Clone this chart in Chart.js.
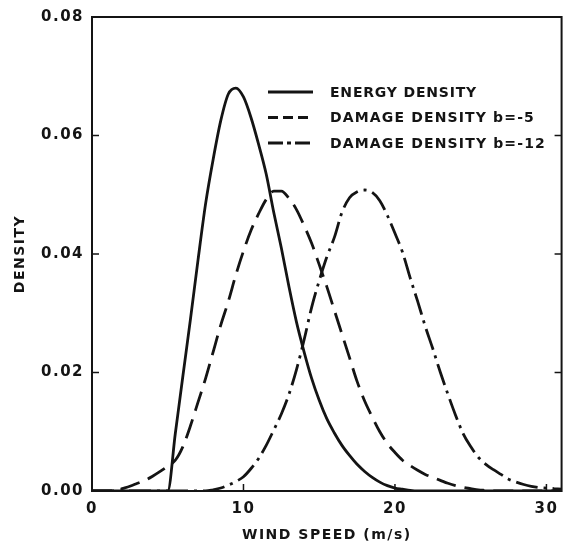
<!DOCTYPE html>
<html>
<head>
<meta charset="utf-8">
<script src="https://cdn.jsdelivr.net/npm/chart.js@4.4.1/dist/chart.umd.min.js"></script>
<style>
  html, body { margin: 0; padding: 0; background: #fff; }
  #wrap { width: 566px; height: 548px; }
</style>
</head>
<body>
<div id="wrap"><canvas id="chart" width="566" height="548"></canvas></div>
<script>
const windSpeed = [
  0, 0.5, 1, 1.5, 2, 2.5, 3, 3.5, 4, 4.5, 5, 5.5, 6, 6.5, 7, 7.5, 8, 8.5, 9, 9.5,
  10, 10.5, 11, 11.5, 12, 12.5, 13, 13.5, 14, 14.5, 15, 15.5, 16, 16.5, 17, 17.5,
  18, 18.5, 19, 19.5, 20, 20.5, 21, 21.5, 22, 22.5, 23, 23.5, 24, 24.5, 25, 25.5,
  26, 26.5, 27, 27.5, 28, 28.5, 29, 29.5, 30, 30.5, 31
];

const energyDensity = [
  0, 0, 0, 0, 0, 0, 0, 0, 0, 0, 0,
  0.0097, 0.0194, 0.029, 0.039, 0.0485, 0.056, 0.0625, 0.067, 0.068, 0.0665,
  0.063, 0.0585, 0.0535, 0.047, 0.041, 0.0345, 0.0285, 0.0235, 0.019, 0.0153,
  0.0122, 0.0098, 0.0077, 0.006, 0.0045, 0.0033, 0.0023, 0.0015, 0.0009, 0.0005,
  0.0003, 0.0001,
  0, 0, 0, 0, 0, 0, 0, 0, 0, 0, 0, 0, 0, 0, 0, 0, 0, 0, 0, 0
];

const damageB5 = [
  0, 0, 0, 0, 0.0004, 0.0008, 0.0013, 0.0018, 0.0025, 0.0033, 0.0042, 0.0052,
  0.0075, 0.011, 0.015, 0.019, 0.0235, 0.028, 0.032, 0.0365, 0.0405, 0.044,
  0.0468, 0.0492, 0.0506, 0.0506, 0.0494, 0.0475, 0.0448, 0.0418, 0.0382, 0.0345,
  0.0305, 0.0265, 0.0225, 0.0185, 0.0152, 0.0125, 0.01, 0.008, 0.0065, 0.0052,
  0.0043, 0.0035, 0.0028, 0.0023, 0.0018, 0.0013, 0.0009, 0.0006, 0.0004, 0.0002,
  0.0001,
  0, 0, 0, 0, 0, 0, 0, 0, 0, 0
];

const damageB12 = [
  0, 0, 0, 0, 0, 0, 0, 0, 0, 0, 0, 0, 0, 0, 0, 0,
  0.0002, 0.0005, 0.001, 0.0016, 0.0024, 0.0038, 0.0055, 0.0077, 0.0103, 0.013,
  0.0163, 0.0205, 0.0255, 0.031, 0.0355, 0.0395, 0.0428, 0.047, 0.0495, 0.0505,
  0.0508, 0.0504, 0.049, 0.0465, 0.0435, 0.0403, 0.036, 0.032, 0.0278, 0.024,
  0.02, 0.0163, 0.0128, 0.0097, 0.0075, 0.0057, 0.0045, 0.0036, 0.0028, 0.002,
  0.0015, 0.0011, 0.0008, 0.0006, 0.0005, 0.0004, 0.0003
];

const seriesLabels = ["ENERGY DENSITY", "DAMAGE DENSITY b=-5", "DAMAGE DENSITY b=-12"];
const xTicks = [0, 10, 20, 30];
const yTicks = [0, 0.02, 0.04, 0.06, 0.08];

const INK = "#141414";
const FONT = "'DejaVu Sans', 'Liberation Sans', sans-serif";

function points(values) {
  return windSpeed.map((x, i) => ({ x: x, y: values[i] }));
}

// box round the plot plus short inward tick marks
const framePlugin = {
  id: "frame",
  afterDatasetsDraw(chart) {
    const { ctx, chartArea: a, scales } = chart;
    ctx.save();
    ctx.strokeStyle = INK;
    ctx.lineWidth = 2;
    ctx.strokeRect(a.left, a.top, a.right - a.left, a.bottom - a.top);
    ctx.lineWidth = 1.5;
    ctx.beginPath();
    scales.y.ticks.forEach(t => {
      if (t.value <= 0 || t.value >= 0.08) return;
      const py = scales.y.getPixelForValue(t.value);
      ctx.moveTo(a.left, py);
      ctx.lineTo(a.left + 7, py);
      ctx.moveTo(a.right, py);
      ctx.lineTo(a.right - 7, py);
    });
    scales.x.ticks.forEach(t => {
      if (t.value <= 0) return;
      const px = scales.x.getPixelForValue(t.value);
      ctx.moveTo(px, a.bottom);
      ctx.lineTo(px, a.bottom - 7);
    });
    ctx.stroke();
    ctx.restore();
  }
};

const legendPlugin = {
  id: "inlineLegend",
  afterDatasetsDraw(chart) {
    const ctx = chart.ctx;
    const dashes = [[], [10, 5], [15, 4, 4, 4]];
    const widths = [147, 205, 216];
    chart.data.datasets.forEach((ds, i) => {
      const y = 92 + i * 25.5;
      ctx.save();
      ctx.strokeStyle = INK;
      ctx.lineWidth = 3;
      ctx.setLineDash(dashes[i]);
      ctx.beginPath();
      ctx.moveTo(268, y);
      ctx.lineTo(313, y);
      ctx.stroke();
      ctx.setLineDash([]);
      ctx.font = "bold 14px " + FONT;
      ctx.letterSpacing = "0px";
      const w = ctx.measureText(ds.label).width;
      ctx.letterSpacing = ((widths[i] - w) / ds.label.length) + "px";
      ctx.fillStyle = INK;
      ctx.textBaseline = "middle";
      ctx.textAlign = "left";
      ctx.fillText(ds.label, 330, y + 1);
      ctx.restore();
    });
  }
};

// wider letter spacing for the axis text only; datasets draw with it off
const spacingPlugin = {
  id: "spacing",
  beforeDraw(chart) { chart.ctx.letterSpacing = "1.5px"; },
  beforeDatasetsDraw(chart) { chart.ctx.letterSpacing = "0px"; }
};

const lineStyle = {
  borderColor: INK,
  borderWidth: 2.8,
  pointRadius: 0,
  fill: false,
  cubicInterpolationMode: "monotone"
};

new Chart(document.getElementById("chart"), {
  type: "line",
  data: {
    datasets: [
      Object.assign({ label: seriesLabels[0], data: points(energyDensity) }, lineStyle),
      Object.assign({ label: seriesLabels[1], data: points(damageB5), borderDash: [20, 9] }, lineStyle),
      Object.assign({ label: seriesLabels[2], data: points(damageB12), borderDash: [22, 6, 3, 6] }, lineStyle)
    ]
  },
  options: {
    responsive: false,
    animation: false,
    devicePixelRatio: 1,
    layout: { padding: { left: 0, top: 17, right: 4, bottom: 0 } },
    plugins: {
      legend: { display: false },
      tooltip: { enabled: false }
    },
    scales: {
      x: {
        type: "linear",
        min: 0,
        max: 31,
        afterFit(scale) { scale.height = 57; },
        afterBuildTicks(scale) { scale.ticks = xTicks.map(v => ({ value: v })); },
        grid: { display: false, drawTicks: false },
        border: { display: false },
        ticks: {
          padding: 9,
          color: INK,
          font: { family: FONT, size: 15, weight: "bold" }
        },
        title: {
          display: true,
          text: "WIND SPEED (m/s)",
          color: INK,
          padding: { top: 0, bottom: 4 },
          font: { family: FONT, size: 14, weight: "bold" }
        }
      },
      y: {
        min: 0,
        max: 0.08,
        afterFit(scale) { scale.width = 92; },
        afterBuildTicks(scale) { scale.ticks = yTicks.map(v => ({ value: v })); },
        grid: { display: false, drawTicks: false },
        border: { display: false },
        ticks: {
          padding: 8,
          color: INK,
          font: { family: FONT, size: 15, weight: "bold" },
          callback: v => v.toFixed(2)
        },
        title: {
          display: true,
          text: "DENSITY",
          color: INK,
          padding: { top: 12, bottom: 0 },
          font: { family: FONT, size: 14, weight: "bold" }
        }
      }
    }
  },
  plugins: [spacingPlugin, framePlugin, legendPlugin]
});
</script>
</body>
</html>
